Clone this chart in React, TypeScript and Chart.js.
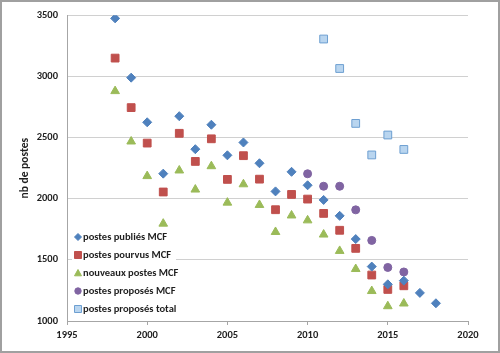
import React, { useEffect, useRef } from "react";
import { Chart, registerables } from "chart.js";

Chart.register(...registerables);

const publiesYears = [1998, 1999, 2000, 2001, 2002, 2003, 2004, 2005, 2006, 2007, 2008, 2009, 2010, 2011, 2012, 2013, 2014, 2015, 2016, 2017, 2018];
const publiesValues = [3475, 2990, 2625, 2205, 2675, 2405, 2605, 2355, 2460, 2290, 2060, 2220, 2110, 1990, 1860, 1670, 1445, 1300, 1330, 1230, 1145];

const pourvusYears = [1998, 1999, 2000, 2001, 2002, 2003, 2004, 2005, 2006, 2007, 2008, 2009, 2010, 2011, 2012, 2013, 2014, 2015, 2016];
const pourvusValues = [3150, 2745, 2455, 2055, 2535, 2305, 2490, 2158, 2352, 2160, 1910, 2035, 1997, 1880, 1742, 1594, 1376, 1258, 1288];

const nouveauxYears = [1998, 1999, 2000, 2001, 2002, 2003, 2004, 2005, 2006, 2007, 2008, 2009, 2010, 2011, 2012, 2013, 2014, 2015, 2016];
const nouveauxValues = [2880, 2468, 2185, 1796, 2231, 2075, 2266, 1968, 2118, 1949, 1728, 1863, 1823, 1707, 1573, 1425, 1245, 1121, 1143];

const proposesMcfYears = [2010, 2011, 2012, 2013, 2014, 2015, 2016];
const proposesMcfValues = [2204, 2102, 2102, 1909, 1659, 1438, 1401];

const proposesTotalYears = [2011, 2012, 2013, 2014, 2015, 2016];
const proposesTotalValues = [3306, 3065, 2616, 2358, 2521, 2403];

const seriesLabels = [
  "postes publiés MCF",
  "postes pourvus MCF",
  "nouveaux postes MCF",
  "postes proposés MCF",
  "postes proposés total",
];

const yAxisTitle = "nb de postes";

const FONT = "Carlito, 'Liberation Sans', Arial, sans-serif";

const toPoints = (xs: number[], ys: number[]) => xs.map((x, i) => ({ x, y: ys[i] }));

function drawMarker(ctx: CanvasRenderingContext2D, style: string, x: number, y: number, r: number, fill: string, stroke: string) {
  ctx.save();
  ctx.fillStyle = fill;
  ctx.strokeStyle = stroke;
  ctx.lineWidth = 1;
  ctx.beginPath();
  if (style === "rectRot") {
    ctx.moveTo(x - r, y);
    ctx.lineTo(x, y - r);
    ctx.lineTo(x + r, y);
    ctx.lineTo(x, y + r);
    ctx.closePath();
  } else if (style === "rect") {
    ctx.rect(x - r, y - r, 2 * r, 2 * r);
  } else if (style === "triangle") {
    ctx.moveTo(x, y - r);
    ctx.lineTo(x + r, y + r * 0.8);
    ctx.lineTo(x - r, y + r * 0.8);
    ctx.closePath();
  } else {
    ctx.arc(x, y, r, 0, Math.PI * 2);
  }
  ctx.fill();
  ctx.stroke();
  ctx.restore();
}

const framePlugin = {
  id: "frameAndLegend",
  beforeDraw(chart: any) {
    const ctx = chart.ctx;
    ctx.save();
    ctx.fillStyle = "#ffffff";
    ctx.fillRect(0, 0, chart.width, chart.height);
    ctx.restore();
  },
  afterDraw(chart: any) {
    const ctx = chart.ctx as CanvasRenderingContext2D;
    const area = chart.chartArea;
    const styles = [
      { s: "rectRot", r: 3.5, f: "#4f81bd", b: "#4f81bd" },
      { s: "rect", r: 3.5, f: "#c0504d", b: "#c0504d" },
      { s: "triangle", r: 3.5, f: "#9bbb59", b: "#9bbb59" },
      { s: "circle", r: 3.2, f: "#8064a2", b: "#8064a2" },
      { s: "rect", r: 3.5, f: "#b9d5ef", b: "#6d9fd1" },
    ];
    const lx = area.left + 11;
    const top = area.bottom - 84;
    ctx.save();
    ctx.fillStyle = "#ffffff";
    ctx.fillRect(area.left + 5, top - 8, 104, 5 * 18 - 2);
    ctx.font = "bold 10.5px " + FONT;
    ctx.textBaseline = "middle";
    ctx.textAlign = "left";
    seriesLabels.forEach((label, i) => {
      const y = top + i * 18;
      const st = styles[i];
      drawMarker(ctx, st.s, lx, y, st.r, st.f, st.b);
      ctx.fillStyle = "#1f1f1f";
      ctx.fillText(label, lx + 5, y + 0.5);
    });
    ctx.restore();

    ctx.save();
    ctx.strokeStyle = "#a0a0a0";
    ctx.lineWidth = 2;
    ctx.strokeRect(1, 1, chart.width - 2, chart.height - 2);
    ctx.restore();
  },
};

export default function App() {
  const canvasRef = useRef<HTMLCanvasElement | null>(null);

  useEffect(() => {
    document.body.style.margin = "0";
    const canvas = canvasRef.current;
    if (!canvas) return;
    const chart = new Chart(canvas, {
      type: "scatter",
      data: {
        datasets: [
          {
            label: seriesLabels[0],
            data: toPoints(publiesYears, publiesValues),
            pointStyle: "rectRot",
            pointRadius: 4.5,
            backgroundColor: "#4f81bd",
            borderColor: "#4f81bd",
            borderWidth: 1,
          },
          {
            label: seriesLabels[1],
            data: toPoints(pourvusYears, pourvusValues),
            pointStyle: "rect",
            pointRadius: 5.5,
            backgroundColor: "#c0504d",
            borderColor: "#c0504d",
            borderWidth: 1,
          },
          {
            label: seriesLabels[2],
            data: toPoints(nouveauxYears, nouveauxValues),
            pointStyle: "triangle",
            pointRadius: 5,
            backgroundColor: "#9bbb59",
            borderColor: "#9bbb59",
            borderWidth: 1,
          },
          {
            label: seriesLabels[3],
            data: toPoints(proposesMcfYears, proposesMcfValues),
            pointStyle: "circle",
            pointRadius: 4,
            backgroundColor: "#8064a2",
            borderColor: "#8064a2",
            borderWidth: 1,
          },
          {
            label: seriesLabels[4],
            data: toPoints(proposesTotalYears, proposesTotalValues),
            pointStyle: "rect",
            pointRadius: 5.5,
            backgroundColor: "#b9d5ef",
            borderColor: "#6d9fd1",
            borderWidth: 1,
          },
        ],
      },
      options: {
        responsive: false,
        animation: false,
        layout: { padding: { top: 11, right: 32, left: 0, bottom: 0 } },
        plugins: {
          legend: { display: false },
          tooltip: { enabled: false },
        },
        scales: {
          x: {
            type: "linear",
            min: 1995,
            max: 2020,
            ticks: {
              stepSize: 5,
              padding: 4,
              color: "#1f1f1f",
              font: { family: FONT, size: 10.5, weight: "bold" },
              callback: (v: any) => String(v),
            },
            grid: {
              drawOnChartArea: false,
              drawTicks: true,
              tickLength: 4,
              color: "#a6a6a6",
            },
            border: { color: "#a6a6a6" },
            afterFit: (scale: any) => {
              scale.height = 32;
            },
          },
          y: {
            type: "linear",
            min: 1000,
            max: 3500,
            ticks: {
              stepSize: 500,
              padding: 9,
              color: "#1f1f1f",
              font: { family: FONT, size: 10.5, weight: "bold" },
              callback: (v: any) => String(v),
            },
            grid: {
              drawTicks: false,
              color: "#d0d0d0",
            },
            border: { color: "#a6a6a6" },
            title: {
              display: true,
              text: yAxisTitle,
              color: "#1f1f1f",
              font: { family: FONT, size: 11.5, weight: "bold" },
              padding: { top: 18, bottom: 0 },
            },
            afterFit: (scale: any) => {
              scale.width = 67;
            },
          },
        },
      },
      plugins: [framePlugin],
    } as any);
    return () => chart.destroy();
  }, []);

  return (
    <div style={{ position: "absolute", left: 0, top: 0 }}>
      <canvas ref={canvasRef} width={500} height={353} style={{ display: "block" }} />
    </div>
  );
}
